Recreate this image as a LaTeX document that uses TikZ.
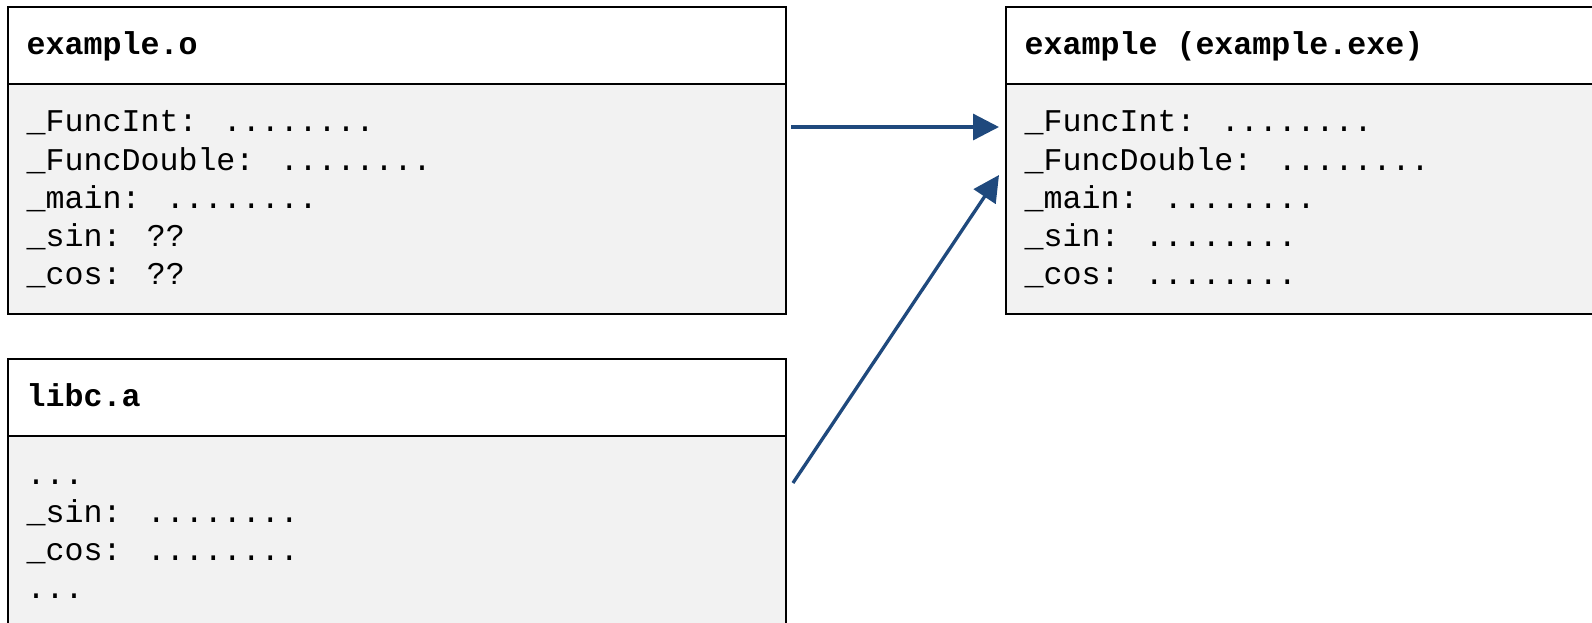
\documentclass[tikz,border=0pt]{standalone}
\usepackage{fontspec}
\newfontfamily\codefont{Liberation Mono}
\usetikzlibrary{arrows.meta,positioning}
\definecolor{boxgray}{HTML}{F2F2F2}
\definecolor{linkblue}{HTML}{1F497D}
\newcommand\symdots{........}
\newcommand\gapdots{...}

\begin{document}
\begin{tikzpicture}[
    frame/.style={draw, line width=0.7pt, anchor=north west, inner sep=0pt, minimum width=7.78cm},
    head/.style={frame, fill=white, minimum height=0.77cm},
    body/.style={frame, fill=boxgray},
    title/.style={anchor=base west, inner sep=0pt, font=\codefont\fontsize{9.0}{11}\selectfont\bfseries},
    entry/.style={anchor=base west, inner sep=0pt, font=\codefont\fontsize{9.0}{11}\selectfont},
    link/.style={draw=linkblue, line width=0.95pt, -{Triangle[length=2.6mm,width=2.6mm]}}
  ]
  \useasboundingbox (0,0) rectangle (15.92,-6.23);

  % boxes
  \node[head] (objhead) at (0.07,-0.06) {};
  \node[body, minimum height=2.30cm] (objbody) at (0.07,-0.83) {};
  \node[head] (libhead) at (0.07,-3.58) {};
  \node[body, minimum height=2.20cm] (libbody) at (0.07,-4.35) {};
  \node[head, minimum width=6.2cm] (exehead) at (10.05,-0.06) {};
  \node[body, minimum width=6.2cm, minimum height=2.30cm] (exebody) at (10.05,-0.83) {};

  % titles
  \node[title] (objname) at ([shift={(0.19,-0.48)}]objhead.north west) {example.o};
  \node[title] (libname) at ([shift={(0.19,-0.48)}]libhead.north west) {libc.a};
  \node[title] (exename) at ([shift={(0.19,-0.48)}]exehead.north west) {example (example.exe)};

  % symbol tables
  \foreach \txt [count=\i] in {\_FuncInt: \symdots, \_FuncDouble: \symdots, \_main: \symdots, \_sin: ??, \_cos: ??}
    \node[entry] (obj\i) at ([shift={(0.19,{-0.487-0.383*(\i-1)})}]objbody.north west) {\txt};
  \foreach \txt [count=\i] in {\gapdots, \_sin: \symdots, \_cos: \symdots, \gapdots}
    \node[entry] (lib\i) at ([shift={(0.19,{-0.49-0.383*(\i-1)})}]libbody.north west) {\txt};
  \foreach \txt [count=\i] in {\_FuncInt: \symdots, \_FuncDouble: \symdots, \_main: \symdots, \_sin: \symdots, \_cos: \symdots}
    \node[entry] (exe\i) at ([shift={(0.19,{-0.487-0.383*(\i-1)})}]exebody.north west) {\txt};

  % linking
  \draw[link] ([shift={(0.04,-0.44)}]objbody.north east) -- ([shift={(-0.06,-0.44)}]exebody.north west);
  \draw[link] ([shift={(0.055,-0.48)}]libbody.north east) -- ([shift={(-0.06,-0.92)}]exebody.north west);
\end{tikzpicture}
\end{document}
